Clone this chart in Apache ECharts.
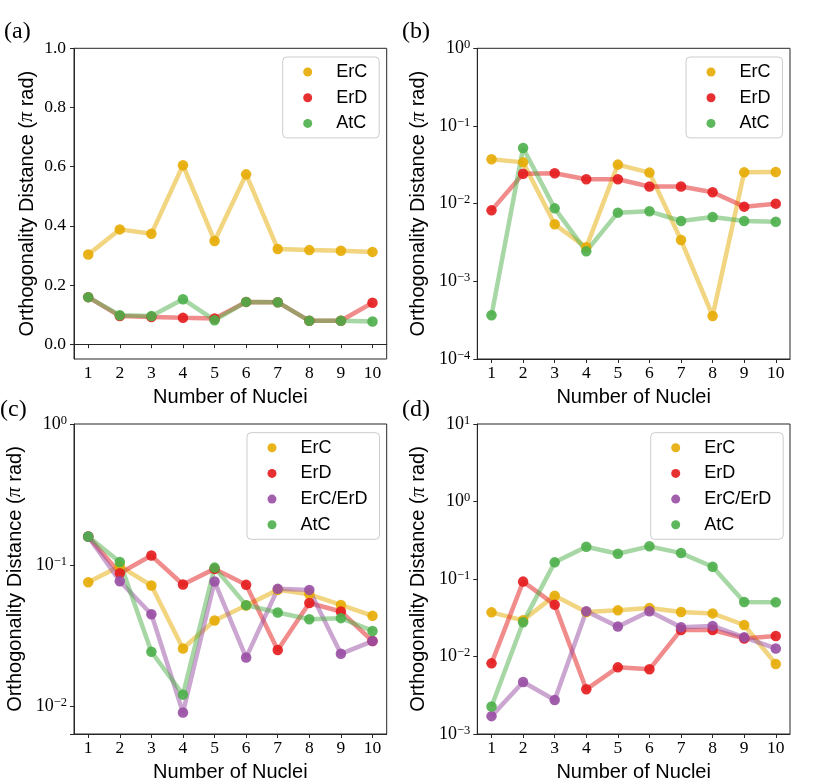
<!DOCTYPE html>
<html><head><meta charset="utf-8">
<script src="https://cdn.jsdelivr.net/npm/echarts@6/dist/echarts.min.js"></script>
<style>html,body{margin:0;padding:0;background:#fff}#c{width:831px;height:783px}</style>
</head><body><div id="c"></div>
<script>
// ---- data ----
const nuclei = [1, 2, 3, 4, 5, 6, 7, 8, 9, 10];
const linTicks = [0, 0.2, 0.4, 0.6, 0.8, 1.0];

// panel (a) linear
const aErC = [0.303, 0.388, 0.373, 0.605, 0.349, 0.574, 0.322, 0.318, 0.316, 0.312];
const aErD = [0.159, 0.095, 0.092, 0.089, 0.087, 0.143, 0.142, 0.079, 0.079, 0.140];
const aAtC = [0.159, 0.098, 0.095, 0.152, 0.081, 0.143, 0.142, 0.079, 0.079, 0.077];

// panel (b) log
const bErC = [0.0372, 0.034, 0.00542, 0.00274, 0.0318, 0.0251, 0.0034, 0.000358, 0.0253, 0.0256];
const bErD = [0.0082, 0.0243, 0.0246, 0.0206, 0.0206, 0.0166, 0.0166, 0.0140, 0.00915, 0.0100];
const bAtC = [0.000365, 0.0521, 0.0087, 0.00243, 0.00766, 0.00797, 0.00598, 0.00673, 0.00598, 0.00586];

// panel (c) log
const cErC = [0.0754, 0.098, 0.0714, 0.0255, 0.0403, 0.0515, 0.0665, 0.0619, 0.052, 0.0435];
const cErD = [0.159, 0.0873, 0.1165, 0.0726, 0.0937, 0.0722, 0.0249, 0.0537, 0.0467, 0.0288];
const cErCErD = [0.159, 0.0766, 0.0447, 0.00897, 0.0762, 0.022, 0.0676, 0.0665, 0.0234, 0.0288];
const cAtC = [0.159, 0.105, 0.0242, 0.0120, 0.0957, 0.0518, 0.0459, 0.0412, 0.0419, 0.034];

// panel (d) log
const dErC = [0.0371, 0.0293, 0.061, 0.0375, 0.0394, 0.0423, 0.0375, 0.036, 0.0255, 0.0080];
const dErD = [0.00816, 0.0925, 0.0467, 0.00377, 0.00724, 0.00683, 0.022, 0.022, 0.0171, 0.0184];
const dErCErD = [0.0017, 0.00469, 0.00275, 0.0383, 0.0243, 0.0383, 0.0238, 0.0248, 0.0177, 0.0127];
const dAtC = [0.00226, 0.0276, 0.164, 0.261, 0.212, 0.264, 0.216, 0.144, 0.0505, 0.050];

const COLORS = {'ErC': '#E6AB02', 'ErD': '#E41A1C', 'ErC/ErD': '#984EA3', 'AtC': '#4DAF4A'};

// ---- chart ----
const SERIF = 'Liberation Serif';
const SANS = 'Liberation Sans';
const AXC = '#262626';

const grids = [
  {left: 74, top: 48.3, width: 312.7, height: 310.7},
  {left: 477.3, top: 48.3, width: 312.7, height: 310.7},
  {left: 74, top: 424, width: 312.7, height: 310},
  {left: 477.3, top: 424, width: 312.7, height: 310}
].map(g => Object.assign(g, {show: true, borderColor: AXC, borderWidth: 1, backgroundColor: 'transparent'}));

function xAxis(i) {
  return {
    type: 'value', gridIndex: i, min: 0.55, max: 10.45,
    name: 'Number of Nuclei', nameLocation: 'middle', nameGap: 28,
    nameTextStyle: {fontFamily: SANS, fontSize: 20, color: '#000', verticalAlign: 'top'},
    axisLine: {show: true, lineStyle: {color: AXC, width: 1}},
    axisTick: {show: true, length: 4, lineStyle: {color: AXC}, customValues: nuclei},
    axisLabel: {customValues: nuclei, fontFamily: SERIF, fontSize: 17.5, color: '#000', margin: 5},
    splitLine: {show: false}
  };
}
const yName = {
  fontFamily: SANS, fontSize: 20, color: '#000',
  rich: {
    s: {fontFamily: SANS, fontSize: 20, color: '#000'},
    p: {fontFamily: SERIF, fontStyle: 'italic', fontSize: 20, color: '#000'}
  }
};
const yNameText = '{s|Orthogonality Distance (}{p|π}{s| rad)}';

function logFmt(v) {
  const e = Math.log10(v);
  const r = Math.round(e);
  if (Math.abs(e - r) > 1e-6) return '';
  return '{b|10}{s|' + (r < 0 ? '\u2212' + (-r) : String(r)) + '}';
}
function yLog(i, min, max) {
  return {
    type: 'log', logBase: 10, gridIndex: i, min: min, max: max,
    name: yNameText, nameLocation: 'middle', nameGap: 49, nameTextStyle: yName,
    axisLine: {show: true, lineStyle: {color: AXC, width: 1}},
    axisTick: {show: true, length: 4, lineStyle: {color: AXC}},
    minorTick: {show: false},
    axisLabel: {
      formatter: logFmt, margin: 7, color: '#000',
      rich: {
        b: {fontFamily: SERIF, fontSize: 18, lineHeight: 20, color: '#000'},
        s: {fontFamily: SERIF, fontSize: 12.5, lineHeight: 12, verticalAlign: 'top', color: '#000'}
      }
    },
    splitLine: {show: false}
  };
}
const yAxes = [
  {
    type: 'value', gridIndex: 0, min: -0.05, max: 1.0,
    name: yNameText, nameLocation: 'middle', nameGap: 37, nameTextStyle: yName,
    axisLine: {show: true, lineStyle: {color: AXC, width: 1}},
    axisTick: {show: true, length: 4, lineStyle: {color: AXC}, customValues: linTicks},
    axisLabel: {customValues: linTicks, formatter: v => v.toFixed(1), fontFamily: SERIF, fontSize: 17.5, color: '#000', margin: 8},
    splitLine: {show: false}
  },
  yLog(1, 1e-4, 1),
  yLog(2, Math.pow(10, -2.2), 1),
  yLog(3, 1e-3, 10)
];

function mk(name, vals, gi) {
  return {
    type: 'line', name: name, xAxisIndex: gi, yAxisIndex: gi,
    data: vals.map((v, k) => [nuclei[k], v]),
    symbol: 'circle', symbolSize: 10.5, showSymbol: true,
    color: COLORS[name],
    lineStyle: {width: 4.5, opacity: 0.5, color: COLORS[name]},
    itemStyle: {color: COLORS[name], opacity: 0.9, borderWidth: 0},
    emphasis: {disabled: true},
    animation: false
  };
}
const series = [
  mk('ErC', aErC, 0), mk('ErD', aErD, 0), mk('AtC', aAtC, 0),
  mk('ErC', bErC, 1), mk('ErD', bErD, 1), mk('AtC', bAtC, 1),
  mk('ErC', cErC, 2), mk('ErD', cErD, 2), mk('ErC/ErD', cErCErD, 2), mk('AtC', cAtC, 2),
  mk('ErC', dErC, 3), mk('ErD', dErD, 3), mk('ErC/ErD', dErCErD, 3), mk('AtC', dAtC, 3)
];

function legend(left, top, names) {
  return {
    left: left, top: top, orient: 'vertical', align: 'left',
    data: names.map(n => ({name: n, icon: 'circle'})),
    itemWidth: 9, itemHeight: 9, itemGap: 7.7,
    padding: [6, 12, 5.5, 20.5],
    backgroundColor: 'rgba(255,255,255,0.8)', borderColor: '#cccccc', borderWidth: 1, borderRadius: 4,
    formatter: n => '{n|' + n + '}',
    textStyle: {
      fontFamily: SANS, fontSize: 18, color: '#000', lineHeight: 18,
      rich: {n: {fontFamily: SANS, fontSize: 18, color: '#000', lineHeight: 18, padding: [0, 0, 0, 19]}}
    },
    selectedMode: false
  };
}
const legends = [
  legend(282.7, 57, ['ErC', 'ErD', 'AtC']),
  legend(686, 57, ['ErC', 'ErD', 'AtC']),
  legend(247, 432.7, ['ErC', 'ErD', 'ErC/ErD', 'AtC']),
  legend(650.7, 432.7, ['ErC', 'ErD', 'ErC/ErD', 'AtC'])
];

const panelLabel = (t, x, y) => ({
  type: 'text', left: x, top: y,
  style: {text: t, font: '24px "Liberation Serif"', fill: '#000'}
});

const chart = echarts.init(document.getElementById('c'), null, {renderer: 'canvas'});
chart.setOption({
  animation: false,
  backgroundColor: '#fff',
  grid: grids,
  xAxis: [xAxis(0), xAxis(1), xAxis(2), xAxis(3)],
  yAxis: yAxes,
  legend: legends,
  series: series,
  graphic: [
    panelLabel('(a)', 4, 20), panelLabel('(b)', 402, 20),
    panelLabel('(c)', 0, 398), panelLabel('(d)', 402, 398)
  ]
});
</script></body></html>
